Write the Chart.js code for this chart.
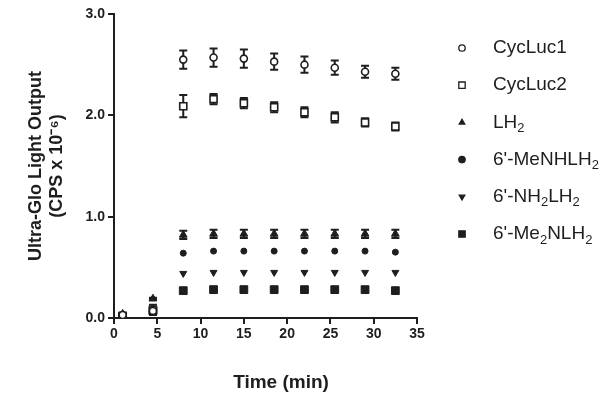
<!DOCTYPE html>
<html>
<head>
<meta charset="utf-8">
<script src="https://cdn.jsdelivr.net/npm/chart.js"></script>
<style>
  html, body { margin: 0; background: #fff; }
  #wrap { width: 605px; height: 404px; }
</style>
</head>
<body>
<div id="wrap"><canvas id="chart"></canvas></div>
<script>
// time points (min)
const times = [1, 4.5, 8, 11.5, 15, 18.5, 22, 25.5, 29, 32.5];

// light output (CPS x 10^-6) and SEM for each substrate
const cycLuc1 = [0.03, 0.07, 2.55, 2.57, 2.56, 2.53, 2.50, 2.47, 2.43, 2.41];
const cycLuc1Err = [0.01, 0.03, 0.09, 0.09, 0.09, 0.08, 0.08, 0.07, 0.06, 0.06];
const cycLuc2 = [0.02, 0.08, 2.09, 2.16, 2.12, 2.08, 2.03, 1.98, 1.93, 1.89];
const cycLuc2Err = [0.01, 0.05, 0.11, 0.05, 0.05, 0.05, 0.05, 0.05, 0.04, 0.04];
const lh2 = [0.04, 0.19, 0.82, 0.83, 0.83, 0.83, 0.83, 0.83, 0.83, 0.83];
const lh2Err = [0.01, 0.01, 0.04, 0.04, 0.04, 0.04, 0.04, 0.04, 0.04, 0.04];
const meNHLH2 = [0.02, 0.09, 0.64, 0.66, 0.66, 0.66, 0.66, 0.66, 0.66, 0.65];
const nh2LH2 = [0.02, 0.08, 0.44, 0.45, 0.45, 0.45, 0.45, 0.45, 0.45, 0.45];
const me2NLH2 = [0.02, 0.07, 0.27, 0.28, 0.28, 0.28, 0.28, 0.28, 0.28, 0.27];

const seriesNames = ['CycLuc1', 'CycLuc2', 'LH_2', "6'-MeNHLH_2", "6'-NH_2LH_2", "6'-Me_2NLH_2"];
const xTicks = [0, 5, 10, 15, 20, 25, 30, 35];
const yTicks = [0, 1, 2, 3];

const ink = '#1e1e1e';
const family = '"Liberation Sans", Arial, sans-serif';

function pts(vals) {
  return vals.map((v, i) => ({ x: times[i], y: v }));
}

function ds(label, vals, err, style, opts) {
  return Object.assign({
    label: label,
    data: pts(vals),
    err: err,
    showLine: false,
    pointStyle: style,
    pointRadius: 3.5,
    pointHoverRadius: 3.5,
    pointBorderWidth: 1.6,
    borderColor: ink,
    backgroundColor: ink,
    pointBackgroundColor: ink
  }, opts || {});
}

const datasets = [
  ds(seriesNames[0], cycLuc1, cycLuc1Err, 'circle', { pointBackgroundColor: '#fff' }),
  ds(seriesNames[1], cycLuc2, cycLuc2Err, 'rect', { pointBackgroundColor: '#fff', pointRadius: 5 }),
  ds(seriesNames[2], lh2, lh2Err, 'triangle', { pointRadius: 4.5, pointBorderWidth: 1 }),
  ds(seriesNames[3], meNHLH2, null, 'circle', { pointRadius: 3, pointBorderWidth: 1 }),
  ds(seriesNames[4], nh2LH2, null, 'triangle', { pointRadius: 4, pointBorderWidth: 1, pointRotation: 180 }),
  ds(seriesNames[5], me2NLH2, null, 'rect', { pointRadius: 5.5, pointBorderWidth: 1 })
];

// vertical error bars with caps, drawn under the markers
const errorBars = {
  id: 'errorBars',
  beforeDatasetsDraw(chart) {
    const ctx = chart.ctx;
    const xs = chart.scales.x, ys = chart.scales.y;
    ctx.save();
    ctx.strokeStyle = ink;
    ctx.lineWidth = 2;
    chart.data.datasets.forEach(d => {
      if (!d.err) return;
      d.data.forEach((p, i) => {
        const e = d.err[i];
        if (!e) return;
        const x = xs.getPixelForValue(p.x);
        const y1 = ys.getPixelForValue(p.y + e);
        const y2 = ys.getPixelForValue(p.y - e);
        ctx.beginPath();
        ctx.moveTo(x, y1); ctx.lineTo(x, y2);
        ctx.moveTo(x - 4, y1); ctx.lineTo(x + 4, y1);
        ctx.moveTo(x - 4, y2); ctx.lineTo(x + 4, y2);
        ctx.stroke();
      });
    });
    ctx.restore();
  }
};

// legend on the right (with subscripts) and the x-axis title
const sideLegend = {
  id: 'sideLegend',
  afterDraw(chart) {
    const ctx = chart.ctx;
    const markX = 462, textX = 493, y0 = 48, step = 37.2;
    ctx.save();
    chart.data.datasets.forEach((d, i) => {
      const y = y0 + i * step;
      ctx.fillStyle = d.pointBackgroundColor;
      ctx.strokeStyle = ink;
      ctx.lineWidth = 1.3;
      Chart.helpers.drawPoint(ctx, {
        pointStyle: d.pointStyle,
        radius: (d.pointStyle === 'rect' ? 4.5 : 3.2),
        rotation: d.pointRotation || 0,
        borderWidth: 1.3
      }, markX, y);
      let x = textX;
      ctx.fillStyle = ink;
      ctx.textBaseline = 'middle';
      ctx.textAlign = 'left';
      const parts = d.label.split(/_(\d)/);
      parts.forEach((s, k) => {
        if (!s) return;
        if (k % 2 === 1) {
          ctx.font = '13px ' + family;
          ctx.fillText(s, x, y + 6);
        } else {
          ctx.font = '19px ' + family;
          ctx.fillText(s, x, y);
        }
        x += ctx.measureText(s).width;
      });
    });
    // x-axis title
    ctx.font = 'bold 19px ' + family;
    ctx.textAlign = 'center';
    ctx.textBaseline = 'middle';
    ctx.fillText('Time (min)', 281, 383);
    ctx.restore();
  }
};

const tickFont = { family: family, size: 14, weight: 'bold' };
const titleFont = { family: family, size: 18, weight: 'bold' };

new Chart(document.getElementById('chart'), {
  type: 'scatter',
  data: { datasets: datasets },
  options: {
    responsive: true,
    maintainAspectRatio: false,
    animation: false,
    events: [],
    layout: { padding: { left: 0, top: 14, right: 188, bottom: 0 } },
    plugins: { legend: { display: false }, tooltip: { enabled: false } },
    scales: {
      x: {
        type: 'linear',
        min: 0, max: 35,
        afterBuildTicks: s => { s.ticks = xTicks.map(v => ({ value: v })); },
        afterFit: s => { s.height = 86; },
        border: { display: true, color: ink, width: 2 },
        grid: { drawOnChartArea: false, drawTicks: true, tickLength: 6, color: ink, lineWidth: 2 },
        ticks: { color: ink, font: tickFont, padding: 2, maxRotation: 0 }
      },
      y: {
        min: 0, max: 3,
        afterBuildTicks: s => { s.ticks = yTicks.map(v => ({ value: v })); },
        afterFit: s => { s.width = 114; },
        border: { display: true, color: ink, width: 2 },
        grid: { drawOnChartArea: false, drawTicks: true, tickLength: 6, color: ink, lineWidth: 2 },
        ticks: { color: ink, font: tickFont, padding: 3, callback: v => v.toFixed(1) },
        title: {
          display: true,
          text: ['Ultra-Glo Light Output', '(CPS x 10\u207B\u2076)'],
          color: ink, font: titleFont, padding: { top: 25, bottom: 0 }
        }
      }
    }
  },
  plugins: [errorBars, sideLegend]
});
</script>
</body>
</html>
